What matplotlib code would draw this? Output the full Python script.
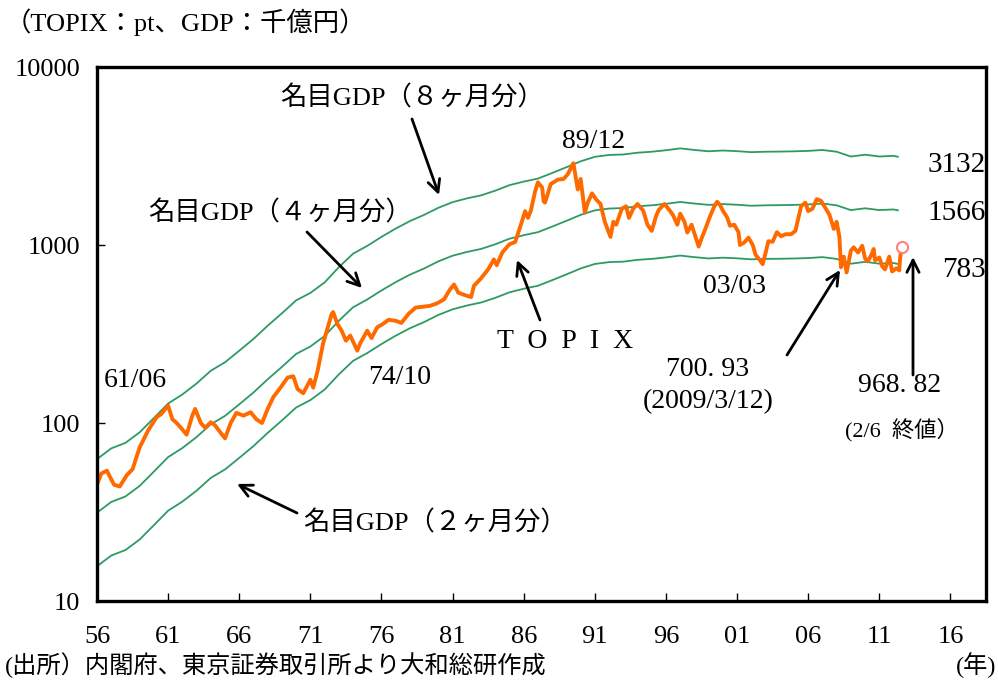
import matplotlib
matplotlib.use("Agg")
import matplotlib.pyplot as plt
from matplotlib.ticker import FixedLocator, NullLocator

plt.rcParams['font.family'] = ['Liberation Serif', 'Noto Sans CJK JP']

# Nominal GDP, calendar year (千億円), plotted at mid-year
gdp_x = [1956.5, 1957.5, 1958.5, 1959.5, 1960.5, 1961.5, 1962.5, 1963.5, 1964.5,
         1965.5, 1966.5, 1967.5, 1968.5, 1969.5, 1970.5, 1971.5, 1972.5, 1973.5,
         1974.5, 1975.5, 1976.5, 1977.5, 1978.5, 1979.5, 1980.5, 1981.5, 1982.5,
         1983.5, 1984.5, 1985.5, 1986.5, 1987.5, 1988.5, 1989.5, 1990.5, 1991.5,
         1992.5, 1993.5, 1994.5, 1995.5, 1996.5, 1997.5, 1998.5, 1999.5, 2000.5,
         2001.5, 2002.5, 2003.5, 2004.5, 2005.5, 2006.5, 2007.5, 2008.5, 2009.5,
         2010.5, 2011.5, 2012.5, 2012.8]
gdp_annual = [94, 108, 116, 133, 160, 193, 217, 250, 295,
              329, 382, 445, 528, 620, 733, 807, 924, 1125,
              1340, 1483, 1666, 1856, 2044, 2215, 2428, 2611, 2741,
              2851, 3029, 3254, 3406, 3542, 3807, 4101, 4428, 4694,
              4808, 4837, 4950, 5013, 5110, 5234, 5128, 5042, 5092,
              5050, 4985, 5013, 5022, 5039, 5067, 5129, 5012, 4711,
              4824, 4713, 4751, 4698]
gdp_months = [2, 4, 8]

# TOPIX (pt)
topix_x = [1956.5, 1956.8, 1957.2, 1957.4, 1957.7, 1958.1, 1958.6, 1959.0, 1959.5,
           1960.1, 1960.7, 1961.0, 1961.5, 1961.8, 1962.1, 1962.5, 1962.8, 1963.2,
           1963.4, 1963.8, 1964.1, 1964.5, 1964.8, 1965.2, 1965.5, 1965.9, 1966.3,
           1966.8, 1967.3, 1967.7, 1968.1, 1968.5, 1968.9, 1969.4, 1969.9, 1970.3,
           1970.6, 1971.0, 1971.5, 1971.7, 1972.0, 1972.4, 1972.7, 1973.0, 1973.1,
           1973.4, 1973.7, 1974.0, 1974.3, 1974.8, 1975.0, 1975.5, 1975.8, 1976.2,
           1976.6, 1977.0, 1977.5, 1977.9, 1978.4, 1978.9, 1979.4, 1979.9, 1980.4,
           1980.9, 1981.3, 1981.6, 1981.9, 1982.3, 1982.8, 1983.0, 1983.5, 1984.0,
           1984.4, 1984.6, 1985.0, 1985.5, 1985.9, 1986.3, 1986.6, 1986.8, 1987.0,
           1987.3, 1987.5, 1987.8, 1987.9, 1988.0, 1988.4, 1988.9, 1989.3, 1989.6,
           1989.99, 1990.2, 1990.3, 1990.5, 1990.65, 1990.8, 1991.0, 1991.3, 1991.6,
           1991.9, 1992.2, 1992.6, 1992.8, 1993.0, 1993.4, 1993.7, 1993.9, 1994.2,
           1994.5, 1994.9, 1995.2, 1995.5, 1995.8, 1996.0, 1996.4, 1996.8, 1997.0,
           1997.3, 1997.5, 1997.8, 1998.0, 1998.3, 1998.6, 1998.8, 1999.0, 1999.3,
           1999.6, 1999.9, 2000.1, 2000.3, 2000.5, 2000.8, 2001.0, 2001.3, 2001.6,
           2001.7, 2002.0, 2002.3, 2002.6, 2002.8, 2003.0, 2003.3, 2003.5, 2003.7,
           2004.0, 2004.3, 2004.6, 2004.9, 2005.3, 2005.6, 2005.8, 2006.0, 2006.3,
           2006.5, 2006.8, 2007.1, 2007.4, 2007.7, 2008.0, 2008.3, 2008.5, 2008.7,
           2008.8, 2009.0, 2009.2, 2009.5, 2009.7, 2010.0, 2010.3, 2010.5, 2010.7,
           2011.0, 2011.1, 2011.2, 2011.5, 2011.7, 2011.9, 2012.2, 2012.4, 2012.7,
           2012.9, 2012.97, 2013.05, 2013.1]
topix = [45, 52, 54, 50, 45, 44, 51, 55, 73,
         91, 108, 112, 125, 105, 100, 92, 86, 110,
         120, 100, 94, 101, 97, 88, 82, 100, 114,
         110, 115, 105, 100, 120, 140, 158, 180, 183,
         155, 147, 175, 158, 195, 281, 340, 410, 420,
         360, 330, 290, 310, 255, 280, 330, 300, 345,
         360, 380, 375, 365, 410, 445, 450, 455, 470,
         495, 560, 600, 540, 525, 510, 590, 650, 730,
         830, 770, 910, 1010, 1040, 1300, 1550, 1420, 1560,
         2000, 2250, 2100, 1760, 1730, 2200, 2330, 2350, 2500,
         2881, 2300, 2050, 2350, 1900, 1520, 1730, 1950, 1800,
         1700, 1350, 1110, 1350, 1300, 1600, 1650, 1420, 1600,
         1700, 1560, 1300, 1200, 1450, 1577, 1700, 1550, 1470,
         1300, 1500, 1350, 1175, 1300, 1100, 980, 1087, 1250,
         1450, 1650, 1750, 1680, 1560, 1430, 1283, 1300, 1180,
         1000, 1032, 1100, 1000, 880, 843, 780, 900, 1050,
         1043, 1180, 1120, 1149, 1150, 1200, 1410, 1650, 1730,
         1550, 1600, 1810, 1770, 1620, 1475, 1230, 1350, 1100,
         750, 860, 700.93, 930, 970, 908, 990, 840, 810,
         900, 950, 820, 850, 760, 729, 860, 710, 740,
         720, 860, 940, 968.82]

x_ticks = [1956.5 + 5 * i for i in range(13)]
x_labels = ['56', '61', '66', '71', '76', '81', '86', '91', '96', '01', '06', '11', '16']
y_ticks = [10, 100, 1000, 10000]
y_labels = ['10', '100', '1000', '10000']

W, H = 998, 682
fig = plt.figure(figsize=(W / 100, H / 100), dpi=100)
ax = fig.add_axes([97 / W, 1 - 601 / H, (986 - 97) / W, (601 - 67) / H])


def fp(x, y):
    return (x / W, 1 - y / H)


green = '#2E9A63'
for m in gdp_months:
    ax.plot(gdp_x, [v * m / 12 for v in gdp_annual], color=green, lw=1.3)

ax.plot(topix_x, topix, color='#FF6A00', lw=2.8, solid_joinstyle='round')
ax.plot([topix_x[-1]], [topix[-1]], marker='o', ms=8, mfc='white',
        mec='#FF8080', mew=1.5)

ax.set_yscale('log')
ax.set_ylim(10, 10000)
ax.set_xlim(1956.5, 2019.0)
ax.yaxis.set_major_locator(FixedLocator(y_ticks))
ax.yaxis.set_minor_locator(NullLocator())
ax.set_yticklabels(y_labels)
ax.set_xticks(x_ticks)
ax.set_xticklabels(x_labels)
ax.tick_params(axis='both', direction='in', length=6, width=1, labelsize=19)
ax.tick_params(axis='x', pad=18)
ax.tick_params(axis='y', pad=12)
for s in ax.spines.values():
    s.set_linewidth(2.4)

fs = 19
fig.text(*fp(5, 22), '（TOPIX：pt、GDP：千億円）', fontsize=fs, va='center', ha='left')
fig.text(*fp(280, 98), '名目GDP（８ヶ月分）', fontsize=fs, va='center', ha='left')
fig.text(*fp(148, 213), '名目GDP（４ヶ月分）', fontsize=fs, va='center', ha='left')
fig.text(*fp(303, 523), '名目GDP（２ヶ月分）', fontsize=fs, va='center', ha='left')
fig.text(*fp(565, 342), 'T  O  P  I  X', fontsize=20, va='center', ha='center')

fa = 20
fig.text(*fp(594, 142), '89/12', fontsize=fa, va='center', ha='center')
fig.text(*fp(135, 381), '61/06', fontsize=fa, va='center', ha='center')
fig.text(*fp(400, 378), '74/10', fontsize=fa, va='center', ha='center')
fig.text(*fp(735, 286), '03/03', fontsize=fa, va='center', ha='center')
fig.text(*fp(708, 369), '700. 93', fontsize=fa, va='center', ha='center')
fig.text(*fp(708, 402), '(2009/3/12)', fontsize=fa, va='center', ha='center')
fig.text(*fp(900, 385), '968. 82', fontsize=fa, va='center', ha='center')
fig.text(*fp(902, 430), '(2/6  終値）', fontsize=16, va='center', ha='center')
fig.text(*fp(986, 165), '3132', fontsize=21, va='center', ha='right')
fig.text(*fp(986, 213), '1566', fontsize=21, va='center', ha='right')
fig.text(*fp(986, 270), '783', fontsize=21, va='center', ha='right')
fig.text(*fp(5, 665), '(出所）内閣府、東京証券取引所より大和総研作成', fontsize=17.5, va='center', ha='left')
fig.text(*fp(996, 665), '(年)', fontsize=17.5, va='center', ha='right')

arrows = [((412, 119), (439, 195)),
          ((307, 232), (362, 288)),
          ((297, 513), (237, 484)),
          ((540, 320), (517, 260)),
          ((787, 355), (840, 270)),
          ((913, 375), (913, 257))]
for (x0, y0), (x1, y1) in arrows:
    ax.annotate('', xy=fp(x1, y1), xytext=fp(x0, y0), xycoords='figure fraction',
                textcoords='figure fraction',
                arrowprops=dict(arrowstyle='->', lw=2, color='black',
                                mutation_scale=22, shrinkA=0, shrinkB=0))

fig.savefig('out.png', dpi=100)
